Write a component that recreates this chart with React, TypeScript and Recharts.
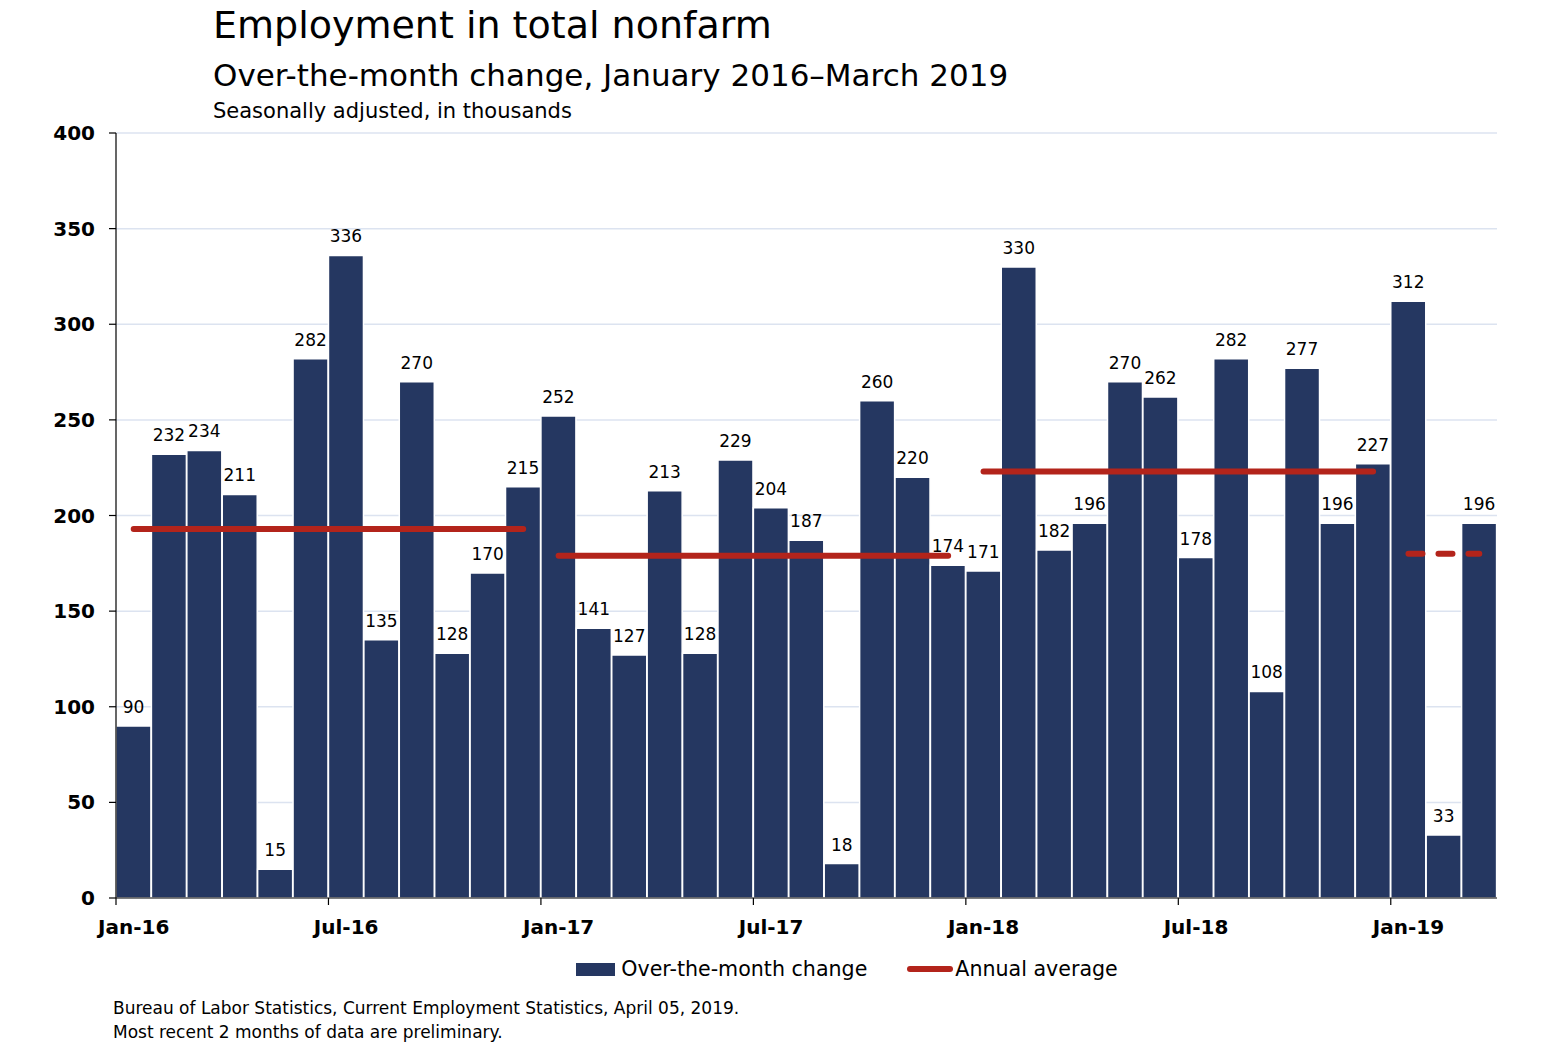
import React from 'react';
import { ComposedChart, Bar, Line, XAxis, YAxis, CartesianGrid, Legend, LabelList } from 'recharts';

const months = [
  'Jan-16', 'Feb-16', 'Mar-16', 'Apr-16', 'May-16', 'Jun-16', 'Jul-16', 'Aug-16', 'Sep-16', 'Oct-16', 'Nov-16', 'Dec-16',
  'Jan-17', 'Feb-17', 'Mar-17', 'Apr-17', 'May-17', 'Jun-17', 'Jul-17', 'Aug-17', 'Sep-17', 'Oct-17', 'Nov-17', 'Dec-17',
  'Jan-18', 'Feb-18', 'Mar-18', 'Apr-18', 'May-18', 'Jun-18', 'Jul-18', 'Aug-18', 'Sep-18', 'Oct-18', 'Nov-18', 'Dec-18',
  'Jan-19', 'Feb-19', 'Mar-19',
];

const change = [
  90, 232, 234, 211, 15, 282, 336, 135, 270, 128, 170, 215,
  252, 141, 127, 213, 128, 229, 204, 187, 18, 260, 220, 174,
  171, 330, 182, 196, 270, 262, 178, 282, 108, 277, 196, 227,
  312, 33, 196,
];

const years = ['16', '17', '18', '19'];
const annualAverage = [193, 179, 223, 180];

const yTicks = [0, 50, 100, 150, 200, 250, 300, 350, 400];

const NAVY = '#253761';
const RED = '#B3241B';
const FONT = '"DejaVu Sans", Verdana, sans-serif';

const data = months.map((m, i) => {
  const row: Record<string, string | number | null> = { month: m, change: change[i] };
  years.forEach((y, k) => {
    row['avg' + y] = m.endsWith(y) ? annualAverage[k] : null;
  });
  return row;
});

function MonthTick(props: any) {
  const { x, y, payload } = props;
  const half = payload && payload.offset ? payload.offset : 17.7;
  return (
    <g>
      <line x1={x - half} y1={y - 8} x2={x - half} y2={y - 1} stroke="#000" strokeWidth={1.2} />
      <text x={x} y={y + 28} textAnchor="middle" fontFamily={FONT} fontWeight="bold" fontSize={20} fill="#000">
        {payload.value}
      </text>
    </g>
  );
}

function LegendContent(props: any) {
  // bars first, then the average line
  const items = (props.payload || [])
    .filter((p: any) => p.type !== 'none')
    .sort((a: any, b: any) => (a.type === 'rect' ? 0 : 1) - (b.type === 'rect' ? 0 : 1));
  return (
    <div style={{ display: 'flex', justifyContent: 'center', gap: 40, fontFamily: FONT, fontSize: 20.6, color: '#000' }}>
      {items.map((p: any) => (
        <div key={p.value} style={{ display: 'flex', alignItems: 'center' }}>
          {p.type === 'rect' ? (
            <span style={{ display: 'inline-block', width: 39, height: 13, background: NAVY, marginRight: 6 }} />
          ) : (
            <span style={{ display: 'inline-block', width: 46, height: 6, borderRadius: 3, background: RED, marginRight: 2 }} />
          )}
          <span>{p.value}</span>
        </div>
      ))}
    </div>
  );
}

export default function App() {
  return (
    <div style={{ position: 'relative', width: 1530, height: 1036, fontFamily: FONT, background: '#fff' }}>
      <div style={{ position: 'absolute', left: 205, top: -5, fontSize: 38, color: '#000', whiteSpace: 'nowrap' }}>
        Employment in total nonfarm
      </div>
      <div style={{ position: 'absolute', left: 205, top: 49, fontSize: 31, color: '#000', whiteSpace: 'nowrap' }}>
        Over-the-month change, January 2016–March 2019
      </div>
      <div style={{ position: 'absolute', left: 205, top: 91, fontSize: 21, color: '#000', whiteSpace: 'nowrap' }}>
        Seasonally adjusted, in thousands
      </div>

      <ComposedChart
        width={1530}
        height={1036}
        data={data}
        margin={{ top: 125, right: 41, left: 0, bottom: 106 }}
        barCategoryGap={0}
        barGap={0}
      >
        <CartesianGrid vertical={false} stroke="#DCE3F0" strokeWidth={1.5} />
        <XAxis
          dataKey="month"
          interval={5}
          tickLine={false}
          axisLine={{ stroke: '#000', strokeWidth: 1.2 }}
          tick={<MonthTick />}
          height={40}
        />
        <YAxis
          domain={[0, 400]}
          ticks={yTicks}
          width={108}
          tickSize={7}
          tickMargin={14}
          tickLine={{ stroke: '#000', strokeWidth: 1.2 }}
          axisLine={{ stroke: '#000', strokeWidth: 1.2 }}
          tick={{ fontFamily: FONT, fontWeight: 'bold', fontSize: 20, fill: '#000' }}
        />
        <Legend
          layout="horizontal"
          verticalAlign="middle"
          content={<LegendContent />}
          wrapperStyle={{ position: 'absolute', top: 949, left: 0, width: 1678 }}
        />
        <Bar dataKey="change" name="Over-the-month change" fill={NAVY} stroke="#fff" strokeWidth={1.5} isAnimationActive={false} legendType="rect">
          <LabelList dataKey="change" position="top" offset={13} fontFamily={FONT} fontSize={17} fill="#000" />
        </Bar>
        <Line dataKey="avg16" name="Annual average" stroke={RED} strokeWidth={6} strokeLinecap="round" dot={false} activeDot={false} isAnimationActive={false} legendType="line" />
        <Line dataKey="avg17" name="avg17" stroke={RED} strokeWidth={6} strokeLinecap="round" dot={false} activeDot={false} isAnimationActive={false} legendType="none" />
        <Line dataKey="avg18" name="avg18" stroke={RED} strokeWidth={6} strokeLinecap="round" dot={false} activeDot={false} isAnimationActive={false} legendType="none" />
        <Line dataKey="avg19" name="avg19" stroke={RED} strokeWidth={6} strokeLinecap="round" strokeDasharray="14 16" dot={false} activeDot={false} isAnimationActive={false} legendType="none" />
      </ComposedChart>

      <div style={{ position: 'absolute', left: 105, top: 988, fontSize: 17, lineHeight: '24px', color: '#000', whiteSpace: 'nowrap' }}>
        <div>Bureau of Labor Statistics, Current Employment Statistics, April 05, 2019.</div>
        <div>Most recent 2 months of data are preliminary.</div>
      </div>
    </div>
  );
}
